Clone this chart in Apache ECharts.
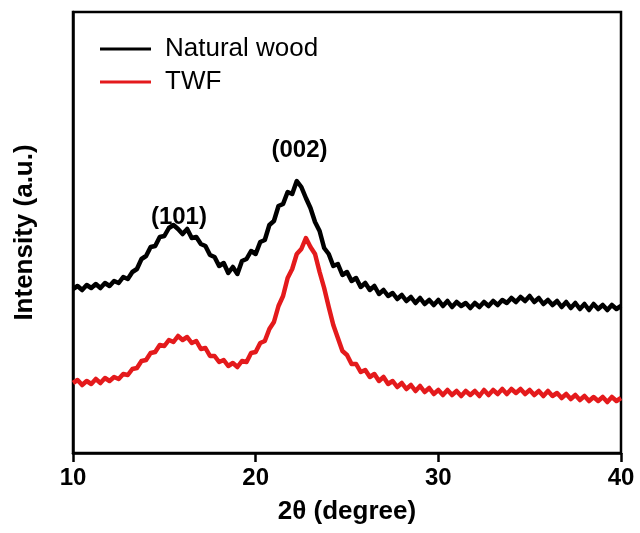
<!DOCTYPE html>
<html>
<head>
<meta charset="utf-8">
<script src="https://cdn.jsdelivr.net/npm/echarts@6/dist/echarts.min.js"></script>
<style>
html,body{margin:0;padding:0;background:#fff;}
#chart{width:640px;height:533px;}
</style>
</head>
<body>
<div id="chart"></div>
<script>
// 2θ positions (degree), 0.25° sampling
const twoTheta = [10,10.25,10.5,10.75,11,11.25,11.5,11.75,12,12.25,12.5,12.75,13,13.25,13.5,13.75,14,14.25,14.5,14.75,
15,15.25,15.5,15.75,16,16.25,16.5,16.75,17,17.25,17.5,17.75,18,18.25,18.5,18.75,19,19.25,19.5,19.75,
20,20.25,20.5,20.75,21,21.25,21.5,21.75,22,22.25,22.5,22.75,23,23.25,23.5,23.75,24,24.25,24.5,24.75,
25,25.25,25.5,25.75,26,26.25,26.5,26.75,27,27.25,27.5,27.75,28,28.25,28.5,28.75,29,29.25,29.5,29.75,
30,30.25,30.5,30.75,31,31.25,31.5,31.75,32,32.25,32.5,32.75,33,33.25,33.5,33.75,34,34.25,34.5,34.75,
35,35.25,35.5,35.75,36,36.25,36.5,36.75,37,37.25,37.5,37.75,38,38.25,38.5,38.75,39,39.25,39.5,39.75,40];
// Intensity (a.u.), Natural wood (offset trace)
const naturalWood = [164,167,163,168,165,169,165,170,167,172,170,176,174,181,184,194,197,206,207,216,
217,225,228,224,219,224,215,216,209,207,198,196,187,190,180,186,179,192,194,202,
199,211,213,228,232,247,249,261,259,272,266,255,245,231,222,205,199,187,189,178,
181,172,175,166,170,163,167,159,163,157,160,154,158,152,156,150,155,149,153,148,
153,147,152,146,151,147,150,145,150,146,151,147,152,148,153,150,155,151,156,152,
157,151,155,149,153,148,152,146,151,145,150,144,149,143,149,144,148,143,148,144,147];
// Intensity (a.u.), TWF
const twf = [70,73,68,72,69,74,70,75,72,76,74,79,78,84,85,92,93,100,101,108,
107,113,111,117,113,116,110,112,104,105,97,97,91,93,87,90,86,92,91,100,
101,110,112,124,131,147,157,175,184,199,204,215,206,199,181,165,146,128,115,102,
98,89,89,81,83,76,79,72,76,69,72,66,70,64,68,62,67,61,65,59,
63,58,63,58,62,57,62,58,62,57,63,58,63,59,64,59,64,60,64,59,
63,58,62,57,62,57,60,55,59,54,58,53,57,52,56,52,56,51,56,52,55];
const xTicks = [10,20,30,40];
const peakLabels = [{name:'(101)', x:15.8, y:236},{name:'(002)', x:22.4, y:303}];

const FONT = 'Liberation Sans, Arial, Helvetica, sans-serif';
const chart = echarts.init(document.getElementById('chart'), null, {renderer:'canvas'});
const pair = (ys) => twoTheta.map((x,i)=>[x, ys[i]]);

chart.setOption({
  animation:false,
  backgroundColor:'#fff',
  grid:{left:73, right:19, top:12, bottom:80, show:true, borderColor:'#000', borderWidth:2.5, backgroundColor:'transparent'},
  legend:{
    orient:'vertical', left:95, top:31, itemGap:7,
    icon:'rect', itemWidth:51, itemHeight:3,
    textStyle:{fontFamily:FONT, fontSize:26, color:'#000', padding:[0,0,0,9]},
    data:['Natural wood','TWF']
  },
  xAxis:{
    type:'value', min:10, max:40, interval:10,
    name:'2θ (degree)', nameLocation:'middle', nameGap:46,
    nameTextStyle:{fontFamily:FONT, fontSize:26, fontWeight:'bold', color:'#000'},
    axisLine:{show:true, lineStyle:{color:'#000', width:2.5}},
    axisTick:{show:true, inside:false, length:9, lineStyle:{color:'#000', width:2.5}},
    axisLabel:{fontFamily:FONT, fontSize:24, fontWeight:'bold', color:'#000', margin:13,
      formatter:(v)=> xTicks.includes(v) ? String(v) : ''},
    splitLine:{show:false}
  },
  yAxis:{
    type:'value', min:0, max:441,
    name:'Intensity (a.u.)', nameLocation:'middle', nameGap:35,
    nameTextStyle:{fontFamily:FONT, fontSize:26, fontWeight:'bold', color:'#000'},
    axisLine:{show:true, lineStyle:{color:'#000', width:2.5}},
    axisTick:{show:false}, axisLabel:{show:false}, splitLine:{show:false}
  },
  series:[
    {
      name:'Natural wood', type:'line', data:pair(naturalWood), showSymbol:false, symbol:'none',
      lineStyle:{color:'#000', width:4.5, join:'round'}, itemStyle:{color:'#000'},
      markPoint:{
        symbol:'circle', symbolSize:0,
        label:{show:true, position:'inside', formatter:'{b}', fontFamily:FONT, fontSize:24, fontWeight:'bold', color:'#000'},
        data: peakLabels.map(p=>({name:p.name, coord:[p.x,p.y]}))
      }
    },
    {
      name:'TWF', type:'line', data:pair(twf), showSymbol:false, symbol:'none',
      lineStyle:{color:'#e41a1c', width:4.5, join:'round'}, itemStyle:{color:'#e41a1c'}
    }
  ]
});
</script>
</body>
</html>
